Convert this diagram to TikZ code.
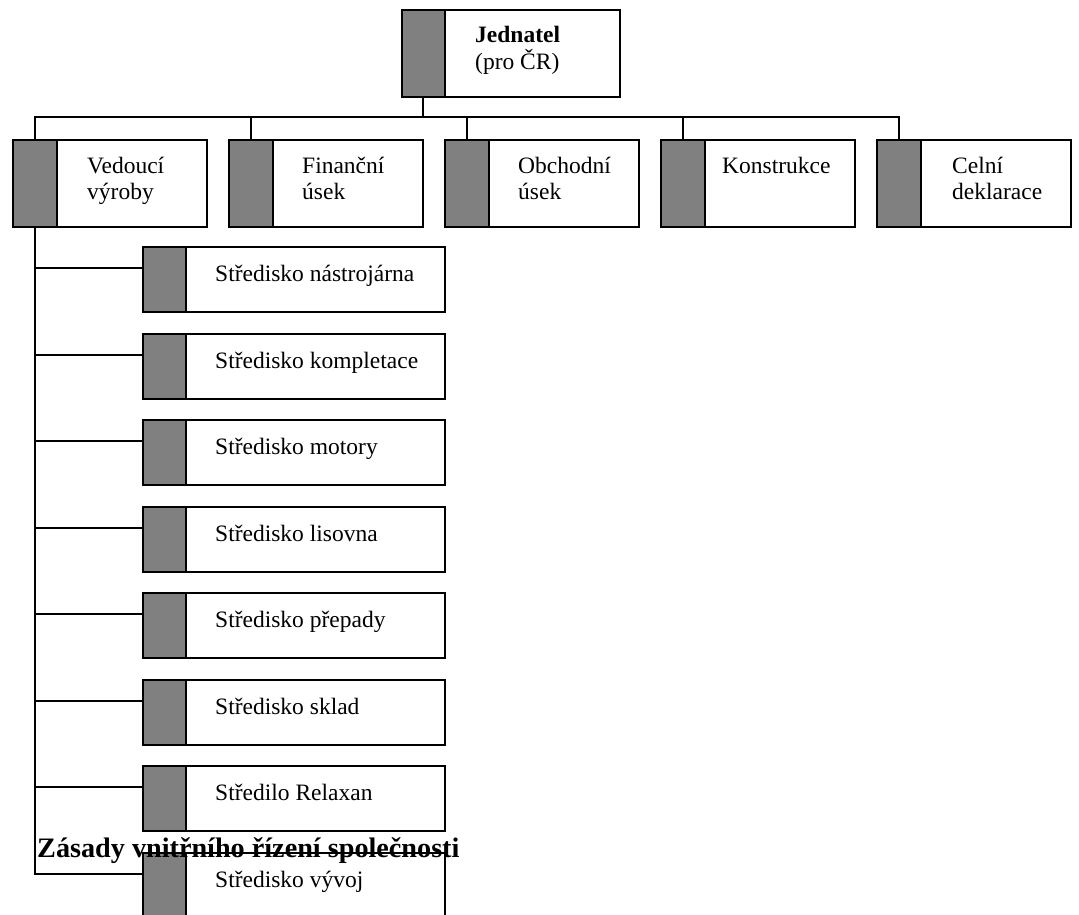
\documentclass[tikz,border=0pt]{standalone}
\usepackage{fontspec}
\setmainfont{Liberation Serif}
\usetikzlibrary{calc}
\definecolor{stripgray}{HTML}{808080}
\begin{document}
\begin{tikzpicture}[x=1pt,y=-1pt,
  box/.style={draw=black, fill=white, line width=2pt, inner sep=0pt, outer sep=0pt, anchor=north west},
  rowbox/.style={box, minimum width=194pt, minimum height=87pt},
  subbox/.style={box, minimum width=302pt, minimum height=65pt},
  strip/.style={draw=black, fill=stripgray, line width=2pt},
  conn/.style={line width=2pt},
  lbl/.style={font=\fontsize{23.5}{27}\selectfont, inner sep=0pt, anchor=base west, align=left},
  ttl/.style={font=\fontsize{28.2}{32}\selectfont\bfseries, inner sep=0pt, anchor=base west}]
\useasboundingbox (0,0) rectangle (1079,915);
\clip (0,0) rectangle (1079,915);

% top box
\node[box, minimum width=218pt, minimum height=87pt] (jed) at (402,10) {};
\filldraw[strip] (jed.north west) rectangle ($(jed.south west)+(43,0)$);
\node[lbl] (jedt) at ($(jed.north west)+(73,60)$) {\textbf{Jednatel}\\(pro ČR)};

% row boxes
\foreach \n/\x in {v/13,f/229,o/445,k/661,c/877}{
  \node[rowbox] (\n) at (\x,140) {};
  \filldraw[strip] (\n.north west) rectangle ($(\n.south west)+(44,0)$);
  \coordinate (\n-top) at ($(\n.north west)+(22,0)$);
}
\node[lbl] (vt) at ($(v.north west)+(74,60)$) {Vedoucí\\výroby};
\node[lbl] (ft) at ($(f.north west)+(73,60)$) {Finanční\\úsek};
\node[lbl] (ot) at ($(o.north west)+(73,60)$) {Obchodní\\úsek};
\node[lbl] (kt) at ($(k.north west)+(61,33)$) {Konstrukce};
\node[lbl] (ct) at ($(c.north west)+(75,60)$) {Celní\\deklarace};

% bus
\coordinate (bus) at (0,117);
\coordinate (jed-bot) at ($(jed.south west)+(21,0)$);
\draw[conn] (jed-bot) -- (jed-bot |- bus);
\draw[conn] (v-top) -- (v-top |- bus) -- (c-top |- bus) -- (c-top);
\foreach \n in {f,o,k}{ \draw[conn] (\n-top) -- (\n-top |- bus); }

% sub boxes
\foreach \i/\y/\t in {1/247/Středisko nástrojárna,2/334/Středisko kompletace,3/420/Středisko motory,4/507/Středisko lisovna,5/593/Středisko přepady,6/680/Středisko sklad,7/766/Středilo Relaxan,8/853/Středisko vývoj}{
  \node[subbox] (s\i) at (143,\y) {};
  \filldraw[strip] (s\i.north west) rectangle ($(s\i.south west)+(43,0)$);
  \node[lbl] (s\i t) at ($(s\i.north west)+(72,34)$) {\t};
  \coordinate (s\i-in) at ($(s\i.north west)+(0,21)$);
}
\coordinate (v-bot) at ($(v.south west)+(22,0)$);
\draw[conn] (v-bot) -- (v-bot |- s8-in) -- (s8-in);
\foreach \i in {1,...,7}{ \draw[conn] (s\i-in -| v-bot) -- (s\i-in); }

% overlapping page title
\node[ttl] (title) at (37,857) {Zásady vnitřního řízení společnosti};
\end{tikzpicture}
\end{document}
